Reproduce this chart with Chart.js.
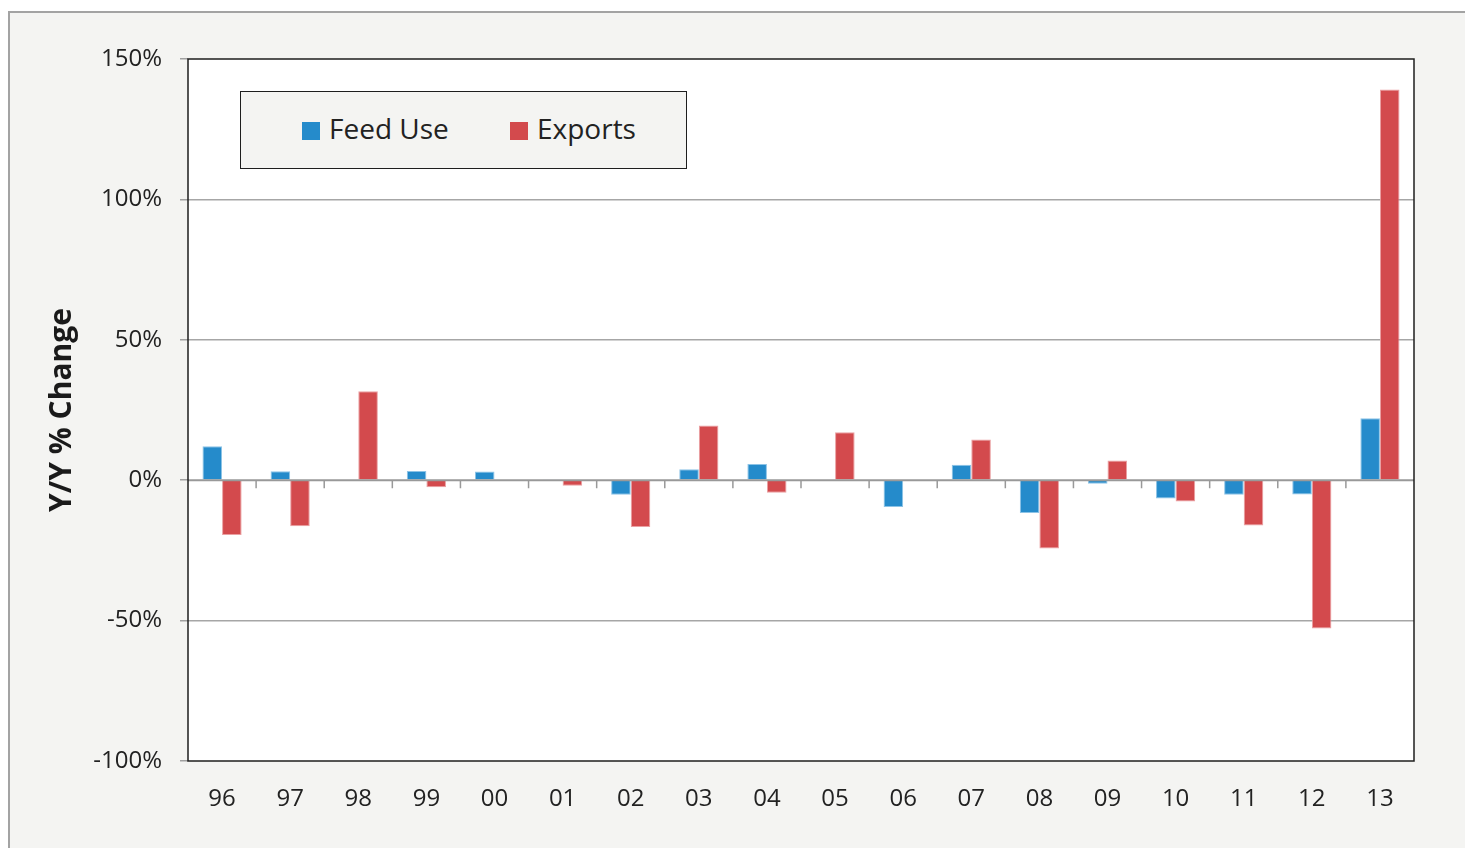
<!DOCTYPE html>
<html>
<head>
<meta charset="utf-8">
<script src="https://cdn.jsdelivr.net/npm/chart.js@4/dist/chart.umd.min.js"></script>
<style>
  html, body { margin: 0; padding: 0; background: #ffffff; }
  #frame {
    position: absolute; left: 8px; top: 11px; width: 1470px; height: 850px;
    background: #f4f4f2; border-left: 2px solid #a3a3a3; border-top: 2px solid #a3a3a3;
  }
  #wrap { position: absolute; left: 0; top: 0; width: 1465px; height: 848px; }
  #legend {
    position: absolute; left: 240px; top: 91px; width: 445px; height: 76px;
    background: #f4f4f2; border: 1.5px solid #1e1e1e;
    font-family: "Open Sans", sans-serif; font-size: 28px; color: #222;
  }
  .item { position: absolute; top: 17px; height: 38px; line-height: 38px; white-space: nowrap; }
  .swatch { display: inline-block; width: 18px; height: 18px; margin-right: 9px; vertical-align: -1px; }
</style>
</head>
<body>
<div id="frame"></div>
<div id="wrap"><canvas id="c" width="1465" height="848"></canvas></div>
<div id="legend"></div>
<script>
// Marketing years (two-digit), year-over-year % change
const years = ['96','97','98','99','00','01','02','03','04','05','06','07','08','09','10','11','12','13'];
const feedUse = [12.1, 3.2, 0, 3.3, 3.1, 0.3, -5.2, 3.9, 5.8, -0.3, -9.5, 5.5, -11.7, -1.3, -6.5, -5.2, -5.1, 22.1];
const exportsChg = [-19.5, -16.4, 31.7, -2.5, 0, -2.0, -16.7, 19.5, -4.5, 17.1, -0.3, 14.5, -24.3, 7.0, -7.6, -16.1, -52.8, 139.1];
const seriesNames = ['Feed Use', 'Exports'];
const seriesColors = ['#258bcb', '#d34a4d'];
const seriesEdges = ['#8cc3e6', '#eaa0a2'];
const yTicks = [-100, -50, 0, 50, 100, 150];

const FONT = '"Open Sans", sans-serif';

// White plot background, zero line with category separators, dark frame
const plotDecor = {
  id: 'plotDecor',
  beforeDraw(chart) {
    const {ctx, chartArea: a} = chart;
    ctx.save();
    ctx.fillStyle = '#ffffff';
    ctx.fillRect(a.left, a.top, a.right - a.left, a.bottom - a.top);
    ctx.restore();
  },
  afterDatasetsDraw(chart) {
    const {ctx, chartArea: a, scales: {x, y}} = chart;
    const y0 = y.getPixelForValue(0);
    ctx.save();
    ctx.strokeStyle = '#999999';
    ctx.lineWidth = 2;
    ctx.beginPath();
    ctx.moveTo(a.left, y0);
    ctx.lineTo(a.right, y0);
    ctx.stroke();
    ctx.lineWidth = 1.5;
    ctx.beginPath();
    for (let i = 1; i < years.length; i++) {
      const px = (x.getPixelForValue(i - 1) + x.getPixelForValue(i)) / 2;
      ctx.moveTo(px, y0);
      ctx.lineTo(px, y0 + 8);
    }
    ctx.stroke();
    ctx.strokeStyle = '#1e1e1e';
    ctx.lineWidth = 1.5;
    ctx.strokeRect(a.left, a.top, a.right - a.left, a.bottom - a.top);
    ctx.restore();
  }
};

new Chart(document.getElementById('c'), {
  type: 'bar',
  data: {
    labels: years,
    datasets: [
      { label: seriesNames[0], data: feedUse, backgroundColor: seriesColors[0], borderColor: seriesEdges[0], borderWidth: 1 },
      { label: seriesNames[1], data: exportsChg, backgroundColor: seriesColors[1], borderColor: seriesEdges[1], borderWidth: 1 }
    ]
  },
  options: {
    responsive: false,
    animation: false,
    layout: { padding: { top: 59, right: 51, left: 0, bottom: 0 } },
    datasets: { bar: { categoryPercentage: 0.575, barPercentage: 1.0 } },
    plugins: { legend: { display: false }, tooltip: { enabled: false } },
    scales: {
      x: {
        afterFit(s) { s.height = 87; },
        grid: { display: false },
        border: { display: false },
        ticks: { color: '#222', padding: 16, font: { family: FONT, size: 24 } }
      },
      y: {
        min: -100, max: 150,
        afterFit(s) { s.width = 188; },
        afterBuildTicks(s) { s.ticks = yTicks.map(v => ({ value: v })); },
        border: { display: false },
        grid: {
          color: c => (c.tick && (c.tick.value === 0 || c.tick.value === 150 || c.tick.value === -100)) ? 'rgba(0,0,0,0)' : '#a6a6a6',
          tickColor: '#a0a0a0',
          lineWidth: 1.5,
          tickLength: 8
        },
        ticks: {
          color: '#222', padding: 18, font: { family: FONT, size: 24 },
          callback: v => v + '%'
        },
        title: {
          display: true, text: 'Y/Y % Change', color: '#1a1a1a',
          font: { family: FONT, size: 30, weight: 'bold' },
          padding: { top: 44, bottom: 0 }
        }
      }
    }
  },
  plugins: [plotDecor]
});

// Legend built from the series names/colours
const legend = document.getElementById('legend');
const itemLeft = [61, 269];
seriesNames.forEach((name, i) => {
  const el = document.createElement('div');
  el.className = 'item';
  el.style.left = itemLeft[i] + 'px';
  const sw = document.createElement('span');
  sw.className = 'swatch';
  sw.style.background = seriesColors[i];
  el.appendChild(sw);
  el.appendChild(document.createTextNode(name));
  legend.appendChild(el);
});
</script>
</body>
</html>
